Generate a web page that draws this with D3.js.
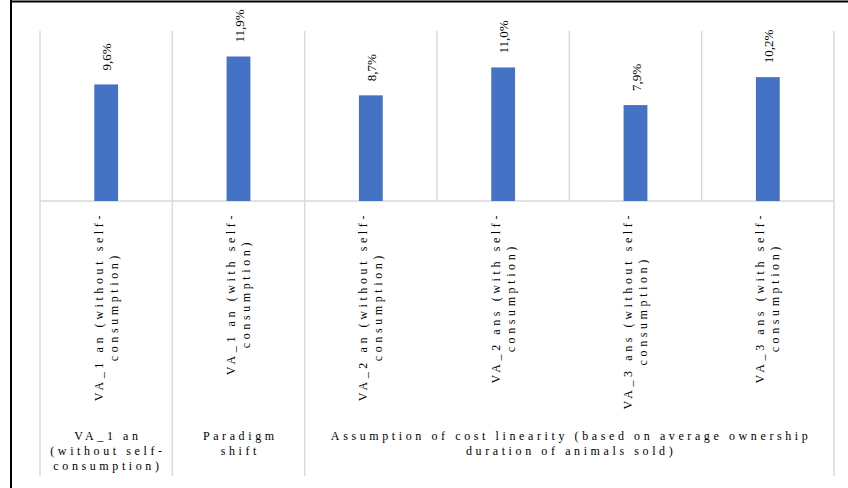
<!DOCTYPE html>
<html>
<head>
<meta charset="utf-8">
<script src="https://cdn.jsdelivr.net/npm/d3@7"></script>
<style>
  html, body { margin: 0; padding: 0; background: #fff; }
  svg { display: block; }
</style>
</head>
<body>
<svg id="chart" width="848" height="488"></svg>
<script>
// Category labels (each split into its two printed lines)
const categories = [
  ["VA_1 an (without self-", "consumption)"],
  ["VA_1 an (with self-", "consumption)"],
  ["VA_2 an (without self-", "consumption)"],
  ["VA_2 ans (with self-", "consumption)"],
  ["VA_3 ans (without self-", "consumption)"],
  ["VA_3 ans (with self-", "consumption)"]
];
// Share in percent
const values = [9.6, 11.9, 8.7, 11.0, 7.9, 10.2];
// Outer grouping of the category axis
const groupLabels = [
  ["VA_1 an", "(without self-", "consumption)"],
  ["Paradigm", "shift"],
  ["Assumption of cost linearity (based on average ownership", "duration of animals sold)"]
];
const groupSizes = [1, 1, 4];
const yDomain = [0, 14];

const svg = d3.select("#chart");
const gridColor = "#d9d9d9";
const serif = "'Liberation Serif', 'Times New Roman', serif";

const left = 40, right = 834, plotTop = 31, baseY = 201, bottom = 476;
const ids = categories.map((d, i) => i);
const x = d3.scaleBand().domain(ids).range([left, right]).paddingInner(0).paddingOuter(0);
const y = d3.scaleLinear().domain(yDomain).range([baseY, plotTop]);

// Outer frame
svg.append("line").attr("x1", 11).attr("x2", 11).attr("y1", 0).attr("y2", 488)
  .attr("stroke", "#000").attr("stroke-width", 2);
svg.append("line").attr("x1", 10).attr("x2", 848).attr("y1", 1.5).attr("y2", 1.5)
  .attr("stroke", "#000").attr("stroke-width", 2);

// Vertical dividers in the plot area, one per category boundary
const bounds = ids.map(i => x(i)).concat([right]);
svg.append("g").selectAll("line").data(bounds).join("line")
  .attr("x1", d => d).attr("x2", d => d)
  .attr("y1", plotTop).attr("y2", baseY)
  .attr("stroke", gridColor).attr("stroke-width", 1.5);

// Group boundaries running through the label rows
const groupBounds = [0];
groupSizes.forEach(n => groupBounds.push(groupBounds[groupBounds.length - 1] + n));
const groupX = groupBounds.map(k => k < ids.length ? x(k) : right);
svg.append("g").selectAll("line").data(groupX).join("line")
  .attr("x1", d => d).attr("x2", d => d)
  .attr("y1", baseY).attr("y2", bottom)
  .attr("stroke", gridColor).attr("stroke-width", 1.5);

// Category axis line
svg.append("line").attr("x1", left).attr("x2", right).attr("y1", baseY).attr("y2", baseY)
  .attr("stroke", gridColor).attr("stroke-width", 1.5);

// Bars
const barW = x.bandwidth() * 0.18;
svg.append("g").selectAll("rect").data(values).join("rect")
  .attr("x", (d, i) => x(i) + x.bandwidth() / 2 - barW / 2)
  .attr("width", barW)
  .attr("y", d => y(d))
  .attr("height", d => y(0) - y(d))
  .attr("fill", "#4472c4");

// Value labels, rotated
const fmt = d => d3.format(".1f")(d).replace(".", ",") + "%";
svg.append("g").selectAll("text").data(values).join("text")
  .attr("transform", (d, i) => `translate(${x(i) + x.bandwidth() / 2 + 0.5},${y(d) - 14}) rotate(-90)`)
  .attr("text-anchor", "start")
  .attr("dominant-baseline", "central")
  .attr("font-family", serif)
  .attr("font-size", 13)
  .attr("fill", "#000")
  .text(fmt);

// Category labels, rotated, top-aligned, lines centred on the longest one
const labelFont = 12, spacing = 3.6, labelTop = 212;
const catG = svg.append("g");
categories.forEach((lines, i) => {
  const g = catG.append("g");
  const texts = lines.map((t, j) => g.append("text")
    .attr("font-family", serif)
    .attr("font-size", labelFont)
    .attr("letter-spacing", spacing)
    .attr("text-anchor", "middle")
    .attr("dominant-baseline", "central")
    .attr("fill", "#000")
    .attr("y", (j - (lines.length - 1) / 2) * 15)
    .text(t));
  const maxLen = d3.max(texts, t => t.node().getComputedTextLength());
  g.attr("transform", `translate(${x(i) + x.bandwidth() / 2},${labelTop + maxLen / 2}) rotate(-90)`);
});

// Group labels
const groupG = svg.append("g");
groupLabels.forEach((lines, k) => {
  const cx = (groupX[k] + groupX[k + 1]) / 2;
  lines.forEach((t, j) => {
    groupG.append("text")
      .attr("x", cx + spacing / 2)
      .attr("y", 436 + j * 15)
      .attr("text-anchor", "middle")
      .attr("dominant-baseline", "central")
      .attr("font-family", serif)
      .attr("font-size", labelFont)
      .attr("letter-spacing", spacing)
      .attr("fill", "#000")
      .text(t);
  });
});
</script>
</body>
</html>
